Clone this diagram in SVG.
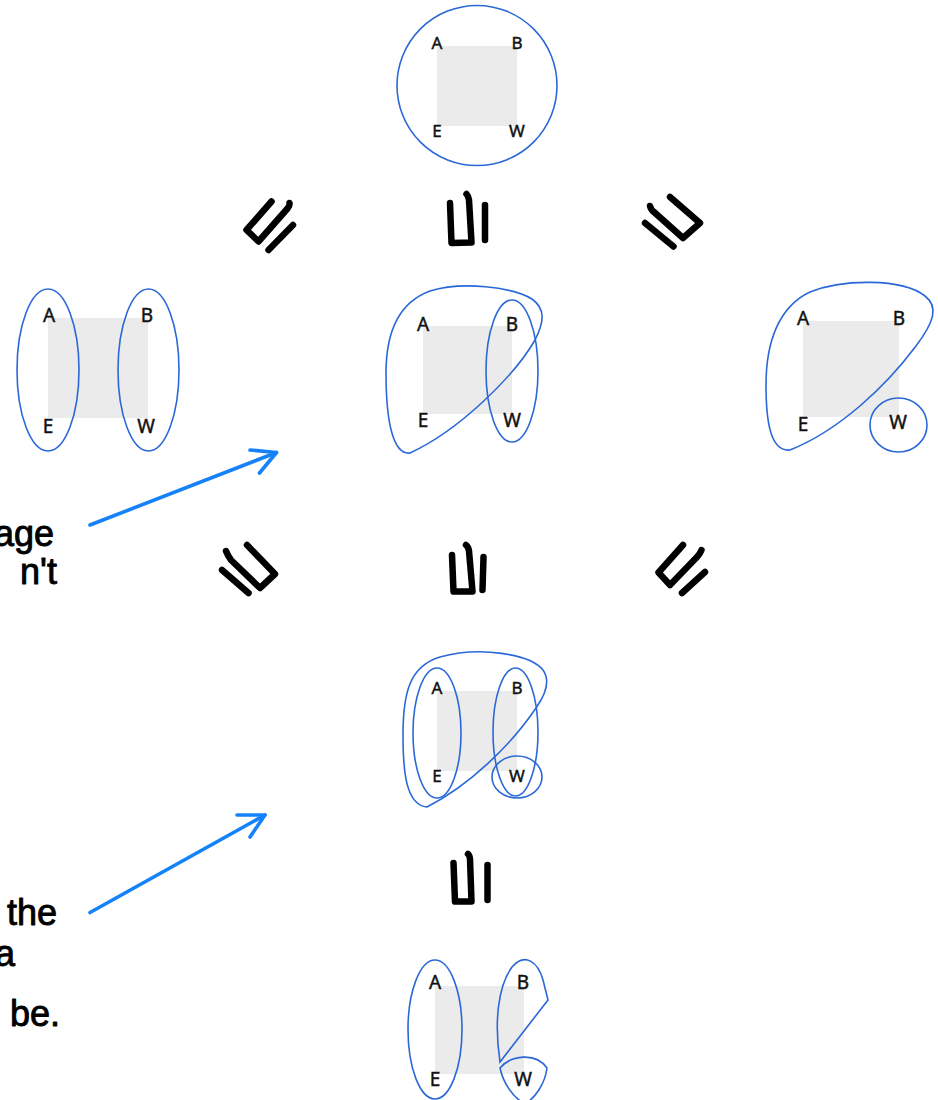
<svg xmlns="http://www.w3.org/2000/svg" width="938" height="1100" viewBox="0 0 938 1100">
  <style>
    .sq { fill: #ebebeb; }
    .ring { fill: none; stroke: #2a68d8; stroke-width: 1.6; }
    .lbl { font-family: "Noto Sans", "Liberation Sans", sans-serif; font-size: 17px; fill: #111; stroke: #111; stroke-width: 0.45; text-anchor: middle; }
    .lbl-l { font-size: 19px; }
    .rel { fill: none; stroke: #000; stroke-width: 6.5; stroke-linecap: round; stroke-linejoin: round; }
    .arr { fill: none; stroke: #1682fa; stroke-width: 3.6; stroke-linecap: round; stroke-linejoin: round; }
    .hand { font-family: "Liberation Sans", "DejaVu Sans", sans-serif; font-size: 36px; fill: #000; stroke: #000; stroke-width: 0.9; stroke-linejoin: round; text-anchor: end; }
  </style>
  <rect width="938" height="1100" fill="#fff"/>

  <!-- whole set -->
  <g id="node-all">
    <rect class="sq" x="437" y="46" width="80" height="80"/>
    <circle class="ring" cx="477" cy="85.5" r="80"/>
    <text class="lbl" x="437" y="49">A</text>
    <text class="lbl" x="517" y="49">B</text>
    <text class="lbl" x="437" y="137">E</text>
    <text class="lbl" x="517" y="137">W</text>
  </g>

  <!-- two columns -->
  <g id="node-columns">
    <rect class="sq" x="48" y="318" width="100" height="100"/>
    <ellipse class="ring" cx="48" cy="370" rx="31" ry="81"/>
    <ellipse class="ring" cx="148.5" cy="370" rx="30.5" ry="81"/>
    <text class="lbl lbl-l" x="49" y="322">A</text>
    <text class="lbl lbl-l" x="147" y="322">B</text>
    <text class="lbl lbl-l" x="48" y="433">E</text>
    <text class="lbl lbl-l" x="146" y="433">W</text>
  </g>

  <!-- overlapping cover -->
  <g id="node-overlap">
    <rect class="sq" x="423" y="326" width="89" height="88"/>
    <path class="ring" d="M410 453 C394 455 386 425 386 373 C386 330 400 302 430 291 C462 281 512 287 532 299 C546 309 544 322 535 340 C515 375 460 430 410 453 Z"/>
    <ellipse class="ring" cx="512" cy="371" rx="26" ry="71"/>
    <text class="lbl lbl-l" x="423" y="331">A</text>
    <text class="lbl lbl-l" x="512" y="331">B</text>
    <text class="lbl lbl-l" x="423" y="427">E</text>
    <text class="lbl lbl-l" x="512" y="427">W</text>
  </g>

  <!-- W split off -->
  <g id="node-split-w">
    <rect class="sq" x="803" y="321" width="96" height="96"/>
    <path class="ring" d="M790 450 C770 452 766 420 766 385 C766 340 780 306 810 292 C842 279 902 278 925 296 C939 307 934 322 916 346 C886 386 840 430 790 450 Z"/>
    <ellipse class="ring" cx="898.5" cy="425" rx="28.5" ry="27"/>
    <text class="lbl lbl-l" x="803" y="325">A</text>
    <text class="lbl lbl-l" x="899" y="325">B</text>
    <text class="lbl lbl-l" x="803" y="431">E</text>
    <text class="lbl lbl-l" x="898" y="429">W</text>
  </g>

  <!-- combined cover -->
  <g id="node-combined">
    <rect class="sq" x="437" y="691" width="80" height="80"/>
    <path class="ring" d="M427 807 C406 805 403 772 403 735 C403 692 410 666 440 657 C480 646 530 654 543 670 C550 680 546 694 536 708 C511 745 470 785 427 807 Z"/>
    <ellipse class="ring" cx="437" cy="733" rx="24" ry="65"/>
    <ellipse class="ring" cx="515.5" cy="732" rx="22.5" ry="64"/>
    <ellipse class="ring" cx="517" cy="777" rx="25" ry="21"/>
    <text class="lbl" x="437" y="694">A</text>
    <text class="lbl" x="517" y="694">B</text>
    <text class="lbl" x="437" y="782">E</text>
    <text class="lbl" x="517" y="782">W</text>
  </g>

  <!-- finest cover -->
  <g id="node-finest">
    <rect class="sq" x="435" y="986" width="89" height="88"/>
    <ellipse class="ring" cx="435" cy="1029.5" rx="27" ry="69.5"/>
    <path class="ring" d="M500 1062 C494 1022 498 986 512 967 C525 952 538 962 543 980 L548 1000 Z"/>
    <path class="ring" d="M500 1068 C511 1055 536 1052 547 1068 C545 1084 535 1098 525 1104 C512 1097 503 1082 500 1068 Z"/>
    <text class="lbl lbl-l" x="435" y="989">A</text>
    <text class="lbl lbl-l" x="523" y="989">B</text>
    <text class="lbl lbl-l" x="435" y="1086">E</text>
    <text class="lbl lbl-l" x="523" y="1086">W</text>
  </g>

  <!-- notes along the left edge -->
  <g id="notes">
    <text class="hand" x="54" y="546">age</text>
    <text class="hand" x="57" y="584">n't</text>
    <text class="hand" x="57" y="925">the</text>
    <text class="hand" x="15" y="966">a</text>
    <text class="hand" x="60" y="1026">be.</text>
  </g>

  <g id="connectors">
    <!-- refinement marks, row 1 -->
    <g id="rel-1a">
      <path class="rel" d="M271.5 201.5 L246.5 230 L258.5 241.5 L287.5 208.5 Q290 205 289.5 203"/>
      <path class="rel" d="M293 225 L268.5 250"/>
    </g>
    <g id="rel-1b">
      <path class="rel" d="M450 203 L451.5 243 L471.5 242.5 L469 200 Q468.5 196 466.5 194"/>
      <path class="rel" d="M485 205 L485 240"/>
    </g>
    <g id="rel-1c">
      <path class="rel" d="M650 206 Q651 210 654 212 L683 238 L700 223 L670 197"/>
      <path class="rel" d="M645 223 L673.5 246.5"/>
    </g>
    <!-- refinement marks, row 2 -->
    <g id="rel-2a">
      <path class="rel" d="M226 551 Q228 556 231 560 L260 588 L275 574 L247 545"/>
      <path class="rel" d="M222 570 L248.5 593"/>
    </g>
    <g id="rel-2b">
      <path class="rel" d="M452 555 L453.5 591.5 L472.5 591.5 L469 551 Q468.5 547 466 545"/>
      <path class="rel" d="M483.5 557 L482.5 590"/>
    </g>
    <g id="rel-2c">
      <path class="rel" d="M683 545 L658.5 572.5 L670 585 L697 557 Q700.5 553 701.5 550"/>
      <path class="rel" d="M705 572 L682 593"/>
    </g>
    <!-- refinement mark, row 3 -->
    <g id="rel-3">
      <path class="rel" d="M453.5 863 L455 901.5 L471.5 901.5 L470 859 Q469.5 855 468 854"/>
      <path class="rel" d="M487.5 865 L487.5 900"/>
    </g>
    <!-- note pointers -->
    <g id="ptr-1">
      <path class="arr" d="M90 525 L276.5 452.5"/>
      <path class="arr" d="M250 450 L276.5 452.5 L259.5 473"/>
    </g>
    <g id="ptr-2">
      <path class="arr" d="M90 912.5 L265 815"/>
      <path class="arr" d="M237 815 L265 815 L250 837"/>
    </g>
  </g>
</svg>
